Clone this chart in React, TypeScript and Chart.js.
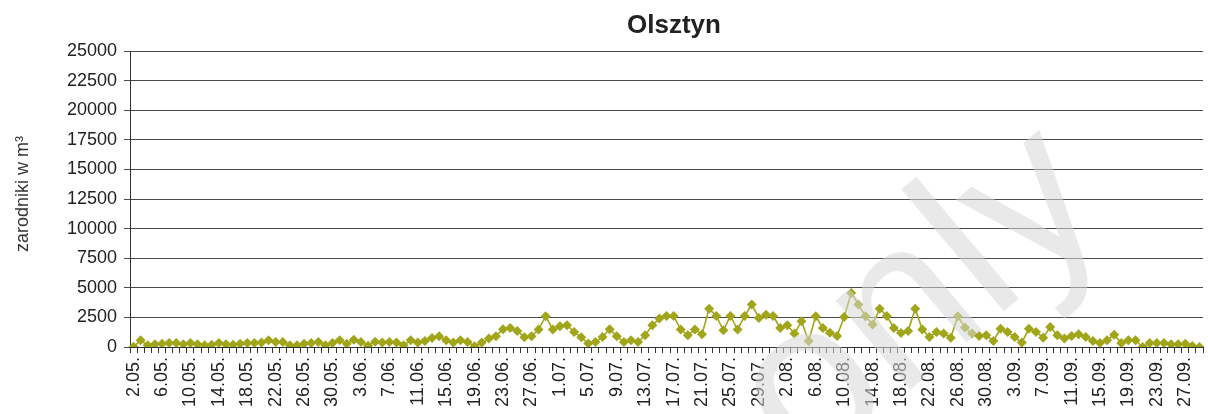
import React, { useEffect, useRef } from "react";
import { Chart, registerables } from "chart.js";

Chart.register(...registerables);

const CHART_TITLE = "Olsztyn";
const Y_TITLE = "zarodniki w m³";
const WATERMARK = "only";

const DATES: string[] = [
  "2.05.", "3.05.", "4.05.", "5.05.", "6.05.", "7.05.", "8.05.", "9.05.", "10.05.", "11.05.",
  "12.05.", "13.05.", "14.05.", "15.05.", "16.05.", "17.05.", "18.05.", "19.05.", "20.05.", "21.05.",
  "22.05.", "23.05.", "24.05.", "25.05.", "26.05.", "27.05.", "28.05.", "29.05.", "30.05.", "31.05.",
  "1.06.", "2.06.", "3.06.", "4.06.", "5.06.", "6.06.", "7.06.", "8.06.", "9.06.", "10.06.",
  "11.06.", "12.06.", "13.06.", "14.06.", "15.06.", "16.06.", "17.06.", "18.06.", "19.06.", "20.06.",
  "21.06.", "22.06.", "23.06.", "24.06.", "25.06.", "26.06.", "27.06.", "28.06.", "29.06.", "30.06.",
  "1.07.", "2.07.", "3.07.", "4.07.", "5.07.", "6.07.", "7.07.", "8.07.", "9.07.", "10.07.",
  "11.07.", "12.07.", "13.07.", "14.07.", "15.07.", "16.07.", "17.07.", "18.07.", "19.07.", "20.07.",
  "21.07.", "22.07.", "23.07.", "24.07.", "25.07.", "26.07.", "27.07.", "28.07.", "29.07.", "30.07.",
  "31.07.", "1.08.", "2.08.", "3.08.", "4.08.", "5.08.", "6.08.", "7.08.", "8.08.", "9.08.",
  "10.08.", "11.08.", "12.08.", "13.08.", "14.08.", "15.08.", "16.08.", "17.08.", "18.08.", "19.08.",
  "20.08.", "21.08.", "22.08.", "23.08.", "24.08.", "25.08.", "26.08.", "27.08.", "28.08.", "29.08.",
  "30.08.", "31.08.", "1.09.", "2.09.", "3.09.", "4.09.", "5.09.", "6.09.", "7.09.", "8.09.",
  "9.09.", "10.09.", "11.09.", "12.09.", "13.09.", "14.09.", "15.09.", "16.09.", "17.09.", "18.09.",
  "19.09.", "20.09.", "21.09.", "22.09.", "23.09.", "24.09.", "25.09.", "26.09.", "27.09.", "28.09.",
  "29.09.",
];

const SPORES: number[] = [
  30, 560, 140, 225, 280, 340, 340, 225, 340, 225,
  140, 200, 340, 225, 200, 280, 340, 340, 370, 560,
  420, 420, 140, 140, 280, 340, 420, 140, 340, 560,
  280, 620, 420, 100, 450, 370, 420, 370, 140, 570,
  370, 510, 760, 900, 570, 370, 570, 420, 60, 370,
  710, 900, 1500, 1610, 1360, 820, 900, 1470, 2600, 1470,
  1750, 1840, 1270, 820, 290, 420, 850, 1500, 900, 420,
  570, 420, 1000, 1830, 2400, 2620, 2620, 1470, 990, 1470,
  1070, 3240, 2620, 1410, 2620, 1470, 2620, 3600, 2450, 2730,
  2620, 1610, 1830, 1130, 2170, 510, 2590, 1610, 1210, 930,
  2540, 4570, 3600, 2590, 1890, 3240, 2620, 1610, 1190, 1350,
  3240, 1470, 850, 1270, 1130, 790, 2600, 1640, 1130, 930,
  990, 510, 1550, 1270, 850, 370, 1550, 1270, 790, 1690,
  990, 710, 930, 1070, 850, 510, 340, 570, 1040, 340,
  570, 570, 0, 340, 340, 340, 225, 225, 280, 85,
  0,
];

const Y_MIN = 0;
const Y_MAX = 25000;
const Y_STEP = 2500;
const LABEL_EVERY = 4;

const FONT = "'Liberation Sans', Arial, sans-serif";
const OLIVE = "#a0a519";

const textPlugin = {
  id: "texts",
  afterDraw(chart: any) {
    const ctx = chart.ctx;
    ctx.save();
    // title
    ctx.fillStyle = "#222";
    ctx.font = `bold 26px ${FONT}`;
    ctx.textAlign = "center";
    ctx.textBaseline = "alphabetic";
    ctx.fillText(CHART_TITLE, 674, 33);
    // y axis title
    ctx.save();
    ctx.translate(28, 194);
    ctx.rotate(-Math.PI / 2);
    ctx.font = `18px ${FONT}`;
    ctx.textAlign = "center";
    ctx.fillStyle = "#333";
    ctx.fillText(Y_TITLE, 0, 0);
    ctx.restore();
    // watermark
    ctx.save();
    ctx.translate(805, 478);
    ctx.rotate((-40 * Math.PI) / 180);
    ctx.font = `220px ${FONT}`;
    ctx.textAlign = "left";
    ctx.fillStyle = "rgba(215,215,215,0.55)";
    ctx.fillText(WATERMARK, 0, 0);
    ctx.restore();
    ctx.restore();
  },
};

export default function App() {
  const ref = useRef<HTMLCanvasElement | null>(null);
  useEffect(() => {
    document.body.style.margin = "0";
    const canvas = ref.current!;
    const chart = new Chart(canvas, {
      type: "line",
      data: {
        labels: DATES,
        datasets: [
          {
            data: SPORES,
            borderColor: OLIVE,
            backgroundColor: OLIVE,
            borderWidth: 1.6,
            pointStyle: "rectRot",
            pointRadius: 5,
            pointBorderWidth: 0,
            pointBackgroundColor: OLIVE,
            tension: 0,
          },
        ],
      },
      options: {
        responsive: false,
        animation: false,
        layout: { padding: { top: 51, left: 0, right: 0, bottom: 0 } },
        plugins: {
          legend: { display: false },
          tooltip: { enabled: false },
          title: { display: false },
        },
        scales: {
          x: {
            type: "category",
            offset: true,
            grid: {
              display: true,
              drawOnChartArea: false,
              drawTicks: true,
              tickLength: 6,
              offset: true,
              color: "#333",
            },
            border: { display: true, color: "#333" },
            ticks: {
              autoSkip: false,
              minRotation: 90,
              maxRotation: 90,
              padding: 4,
              color: "#222",
              font: { family: FONT, size: 18 },
              callback: (_v: any, i: number) => (i % LABEL_EVERY === 0 ? DATES[i] : ""),
            },
            afterFit: (s: any) => {
              s.height = 67;
              s.paddingLeft = 0;
              s.paddingRight = 0;
            },
          },
          y: {
            min: Y_MIN,
            max: Y_MAX,
            ticks: {
              stepSize: Y_STEP,
              color: "#222",
              padding: 7,
              font: { family: FONT, size: 18 },
              callback: (v: any) => String(v),
            },
            grid: { color: "#4a4a4a", tickLength: 6 },
            border: { display: true, color: "#333" },
            afterFit: (s: any) => {
              s.width = 130;
            },
          },
        },
      },
      plugins: [textPlugin],
    });
    return () => chart.destroy();
  }, []);
  return (
    <div style={{ position: "relative", width: 1208, height: 414, overflow: "hidden", background: "#fff" }}>
      <canvas ref={ref} width={1208} height={414} style={{ display: "block" }} />
    </div>
  );
}
